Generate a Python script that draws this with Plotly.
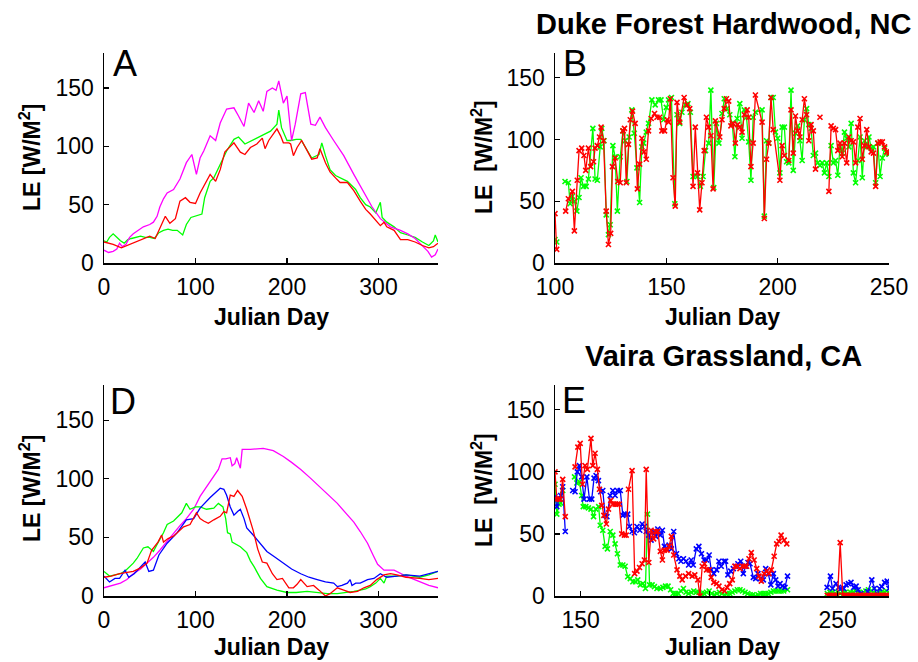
import plotly.graph_objects as go

# ---------------- Panel A (annual, Duke Forest) ----------------
A_mag_d = [0,5,10,14,17,20,24,28,32,38,43,50,54,58,61,65,69,76,83,90,96,101,105,109,116,122,127,134,142,147,153,158,164,169,174,178,184,188,191,196,200,205,209,215,220,226,231,236,242,251,262,273,284,293,302,313,324,332,340,348,354,358,362,365]
A_mag_v = [11,9,10,12,17,14,16,22,25,28,31,33,35,40,48,55,60,63,72,86,93,76,90,96,109,105,120,132,133,126,117,137,129,139,130,147,150,148,156,137,143,105,119,145,146,119,118,125,116,105,92,76,60,48,38,31,28,25,21,15,10,5,7,12]

A_grn_d = [0,3,6,10,14,18,22,26,30,35,40,45,50,55,60,65,70,75,80,86,90,95,100,107,110,116,120,127,134,142,147,154,164,174,182,189,191,194,200,204,210,215,222,227,235,238,242,247,253,260,266,275,280,286,291,297,302,304,309,317,324,332,340,348,355,360,362,365]
A_grn_v = [19,18,22,25,22,19,17,20,21,22,23,22,22,21,26,28,29,28,28,24,33,39,40,42,56,70,73,85,96,106,108,102,106,110,113,119,131,116,105,105,106,106,96,90,93,103,92,80,75,72,70,63,56,50,48,43,52,39,35,31,26,24,22,18,15,19,24,18]

A_red_d = [0,10,19,25,32,43,50,56,61,67,72,78,83,89,94,100,105,112,116,122,127,132,138,142,149,154,160,167,173,176,180,185,189,193,196,202,204,207,211,216,222,227,233,236,242,247,253,258,266,273,280,286,291,297,302,306,309,317,324,332,340,348,355,360,365]
A_red_v = [18,16,13,15,17,21,23,21,29,40,34,38,53,56,52,51,60,70,76,70,80,95,100,103,95,93,99,102,107,98,105,110,115,109,103,103,102,92,99,105,96,89,90,98,86,78,73,69,69,62,53,46,42,36,32,35,31,28,20,20,18,15,13,14,17]

# ---------------- Panel B (daily, Duke Forest) ----------------
B_grn_d = [100,100.8,None,104.5,106,106.8,107.8,108.7,109.8,110.8,111.7,112.8,114,115,117,118,119,120.3,121,122,123,124,124.8,126,127,128,129.3,130.5,131.5,132.3,133.3,134.5,135.6,136.8,138,139,139.8,141,142,143.5,145,146.5,147.6,148.8,150,151,152.3,153.8,154.8,156,157,158.5,159.7,160.8,162,163,164,165.3,166.5,167.6,169,170,171.3,172.5,173.6,175,176,177.3,178.5,179.6,180.8,181.8,183,184,185,186,187,188,189,190,193,194,195,196,197,198,199,200,201,202,203,204,205,206,207,208,209,210,211,212,213,214,215,216,217,218,219,220,221,222,223,224,225,226,227,228,229,230,231,232,233,234,235,236,237,238,239,240,241,242,243,244,245,246,247,248,249,250]
B_grn_v = [19,17,None,66,65,48,54,50,42,53,69,62,62,68,109,68,67,94,109,99,39,23,31,95,86,42,86,107,99,66,102,124,105,77,49,94,97,106,113,132,128,132,132,116,126,132,134,48,120,113,122,128,129,122,70,71,70,62,70,91,97,140,61,113,97,121,133,125,120,113,86,117,129,101,124,118,98,67,118,122,124,38,99,97,134,134,106,101,73,110,110,82,81,140,75,105,111,99,83,116,125,112,109,87,89,81,79,81,73,81,70,95,81,83,71,94,89,106,101,94,113,73,65,83,102,69,99,94,102,93,94,65,97,70,85,93,89,88]

B_red_d = [100,100.75,None,104.8,106,107.8,108.7,110,110.8,112,113,113.8,115,116,117.3,118,119,120,120.7,121.8,123,124,125,125.8,127,128.2,129.3,130.5,131.2,132,133,133.8,134.8,136,137,138,139,140,141,142,143.2,144.7,145.8,147,148,149.2,150.3,151,151.8,153,154,154.8,156,158,159.3,160.5,162,163,164,165,166,167,168,169,170,171,172,174,175,176,177,178,179,180,181,182,183,184,185,186.3,187,188,189,190,193,194,195,196,197,198,201,202,203,205,206,207,208,209,210,211,212,213,214,215,216,217,None,219,None,223,224,225,226,227,228,229,230,231,232,233,234,235,236,237,238,239,240,241,242,243,244,245,246,247,248,249,250]
B_red_v = [40,11,None,42,52,58,26,67,91,93,87,75,93,78,82,93,95,102,110,99,42,15,24,78,85,66,65,107,109,65,96,116,123,113,60,80,101,90,84,107,117,121,118,118,107,107,116,114,133,69,46,130,114,134,128,125,62,110,73,43,65,91,118,110,103,60,115,102,116,125,133,131,111,113,97,112,110,106,120,124,118,78,97,136,114,36,84,97,134,108,67,95,87,83,124,89,119,107,102,116,133,120,99,112,107,76,None,118,None,58,111,109,108,91,97,86,97,81,102,99,98,81,110,117,84,95,108,94,90,89,62,97,98,98,94,90,89]

# ---------------- Panel D (annual, Vaira) ----------------
D_mag_d = [0,10,18,25,32,40,47,54,61,68,76,83,89,98,105,112,120,125,129,133,138,140,143,145,149,151,160,174,185,196,205,215,225,236,245,255,265,273,280,288,294,299,306,317,330,345,355,365]
D_mag_v = [7,9,11,14,19,23,28,33,39,46,54,60,65,74,85,93,102,108,117,117,118,111,113,118,109,125,125,126,124,119,114,108,101,93,86,79,70,63,55,45,35,27,22,22,17,12,9,7]

D_blu_d = [0,6,12,17,23,27,33,39,45,49,54,60,69,80,90,98,105,116,122,127,131,134,138,142,146,149,153,156,163,170,178,187,196,205,215,224,233,242,251,255,260,266,269,271,275,280,288,295,302,309,320,330,345,355,365]
D_blu_v = [17,12,15,15,22,16,19,24,29,21,22,35,45,54,65,66,75,84,88,92,91,86,76,69,72,74,66,58,52,45,38,33,28,23,19,16,14,12,11,8,9,11,14,9,11,11,14,15,19,16,17,18,17,19,21]

D_red_d = [0,8,17,25,32,40,47,52,55,59,63,65,70,76,87,94,101,105,109,114,120,127,131,134,138,142,146,151,156,163,168,173,178,184,189,195,202,207,211,215,222,229,235,242,247,255,262,269,277,284,291,298,306,313,320,330,345,355,365]
D_red_v = [16,17,19,20,21,24,28,39,42,46,52,46,49,51,59,61,71,66,64,62,65,68,72,71,86,85,90,85,74,56,40,29,28,19,14,15,7,7,10,14,8,9,5,0,2,7,5,3,4,7,9,14,18,19,18,16,15,14,15]

D_grn_d = [0,6,12,18,24,28,32,36,40,43,48,54,58,61,65,69,76,85,90,94,100,105,112,120,125,130,133,135,138,140,145,149,156,160,164,171,178,185,189,200,210,222,235,244,255,266,273,280,286,291,297,302,306,309,320,330,345,355,365]
D_grn_v = [21,17,18,19,22,25,28,32,37,41,42,38,44,48,54,61,64,71,79,74,76,76,74,75,79,76,66,54,53,46,44,42,37,30,25,15,8,6,5,3,3,4,3,2,2,3,4,5,6,8,11,15,11,17,17,18,16,18,21]

# ---------------- Panel E (daily, Vaira) ----------------
E_red_d = [140,140.7,141.5,142,143,144,None,147.8,148.9,149.8,150.7,151.7,152.6,154,154.7,155.6,156.5,157.3,158.2,159,160,160.8,161.7,162.5,163.4,164.3,165,166,167,167.7,168.6,170,171,171.9,172.9,173.9,174.8,175.5,176.5,177.4,178.4,179.2,180,181,181.8,182.6,183.6,184.4,185.3,186.2,187.5,188.6,189.5,190.8,192,193.4,194.4,195.6,196.4,197.3,198.2,199,200,200.8,201.8,202.9,203.8,205,206,207,208,209,210,211,212,213,213.8,214.6,215.5,216.4,217.5,218.5,219.4,220.3,221.4,222.4,223.3,224.2,225.3,226.3,227.2,228,229.2,230.2,None,246,247,248,249,250,251,252,253,254,255,256,257,258,259,260,261,262,263,264,265,266,267,268,269,270]
E_red_v = [100,78,78,78,94,64,None,104,120,123,90,105,102,127,105,115,102,86,73,65,58,70,77,74,74,74,74,50,49,49,86,101,18,20,23,26,29,102,27,53,46,52,52,36,29,37,37,40,48,33,21,16,13,16,18,16,17,13,0,24,26,21,21,15,11,10,8,5,4,7,10,13,24,24,22,24,24,24,30,35,29,22,16,12,18,20,18,21,32,42,44,49,45,42,None,0.5,0.5,0.5,0.5,0.5,43,0.5,0.5,0.5,0.5,0.5,0.5,0.5,0.5,0.5,0.5,0.5,0.5,0.5,0.5,0.5,0.5,0.5,0.5,0.5]

E_blu_d = [140,140.7,141.6,142.2,143,144,None,146.9,147.8,148.7,149.5,150.4,151.3,152.4,153.4,154.3,155.2,156,156.9,157.8,158.6,159.5,160.2,161.5,162.5,163.4,164.3,165.4,166.4,167.3,168.3,169,170,170.9,171.9,173,173.9,174.8,175.5,176.5,177.4,178.4,179.2,180,181,181.8,182.6,183.6,184.4,185.3,186.2,187.3,188.2,189,190,191,192,193,193.8,195,196,197,198,199,200,200.8,201.8,202.9,203.8,204.7,205.8,206.4,207.3,208.4,209.4,210.3,211.2,212.3,213.3,214.2,215.1,215.9,217.2,218.1,219,220,221.1,222,223,224,225,225.9,226.8,227.6,228.5,229.5,230.5,None,245.9,247.2,248,249.4,250.4,251.3,252.4,253.3,254.2,255.2,256.3,257.2,258,259,260.4,261.7,263.3,264.3,265.4,266.3,267.2,268.3,269.3,270]
E_blu_v = [80,72,78,81,88,52,None,85,84,100,105,96,78,96,78,78,95,97,93,84,85,65,64,81,85,81,85,85,65,66,66,56,52,51,56,53,58,56,52,49,45,52,48,54,49,53,40,38,41,38,52,34,30,28,30,28,25,29,25,38,40,34,29,29,33,21,18,21,28,24,28,28,17,20,22,24,26,28,18,24,27,26,15,14,18,14,13,22,18,9,18,13,8,10,8,7,16,None,7,16,6,10,7,6,6,9,10,11,7,8,5,2,0,3.5,13,6,0,6,7.5,11,12,6]

E_grn_d = [140,140.7,141.6,142.2,143,None,147.6,148.5,149.5,150.4,151,152,153,154,155,155.9,157,157.6,158.6,159.5,160.4,161.5,162.5,163.4,164.3,165.4,166.4,167.3,168.3,169.3,170.3,171.3,172.2,173.2,174.2,175.2,176,176.8,177.8,178.7,179.7,181,182,183,184,185,186,187,188,189,190,191,192,193,194,195,196,197,198,199,200,201,202,203,204,205,206,207,208,209,210,211,212,213,214,215,216,217,218,219,220,221,222,223,224,225,226,227,228,229,230.5,None,246,247,248,249,250,251,252,253,254,255,256,257,258,259,260,261,262,263,264,265,266,267,268,269,270]
E_grn_v = [90,66,74,75,85,None,96,91,92,81,72,72,71,70,64,70,72,57,53,40,38,52,49,42,34,25,25,24,15.5,14,11.5,11.5,13,9,10,6,66,9,9,7.5,6,6,7,8,8,5,2,2,2,4,6,3,2,3,4,3,3,2,2,3,4,2,1,2,3,2,1,2,2,3,4,5,5,4,3,2,1,1,0,1,2,2,2,2,3,4,4,4,4,4,5,None,2,3,3,2,3,2,3,3,2,3,3,4,3,2,3,4,5,4,3,2,3,3,3,4,3,3]

# ---------------- text ----------------
TITLE_B = "Duke Forest Hardwood, NC"
TITLE_E = "Vaira Grassland, CA"
XLABEL = "Julian Day"
YLABEL_L = "LE [W/M<sup>2</sup>]"
YLABEL_R = "LE\u00a0 [W/M<sup>2</sup>]"
YEAR_TICKS = [0, 100, 200, 300]
B_TICKS = [100, 150, 200, 250]
E_TICKS = [150, 200, 250]
Y_TICKS = [0, 50, 100, 150]

GREEN, RED, MAG, BLUE = "#00ff00", "#ff0000", "#ff00ff", "#0000ff"
FONT = "Liberation Sans, Arial, Helvetica, sans-serif"
W, H = 918, 662


def fx(px):
    return px / W


def fy(py):
    return (H - py) / H


fig = go.Figure()


def add(xs, ys, color, ax, markers=False):
    kw = dict(x=xs, y=ys, xaxis="x" + ax, yaxis="y" + ax, connectgaps=False,
              hoverinfo="skip", showlegend=False,
              line=dict(color=color, width=1.3))
    if markers:
        kw["mode"] = "lines+markers"
        kw["marker"] = dict(symbol="x-thin", size=5, color=color,
                            line=dict(color=color, width=1.6))
    else:
        kw["mode"] = "lines"
    fig.add_trace(go.Scatter(**kw))


add(A_grn_d, A_grn_v, GREEN, "")
add(A_mag_d, A_mag_v, MAG, "")
add(A_red_d, A_red_v, RED, "")

add(B_grn_d, B_grn_v, GREEN, "2", True)
add(B_red_d, B_red_v, RED, "2", True)

add(D_mag_d, D_mag_v, MAG, "3")
add(D_grn_d, D_grn_v, GREEN, "3")
add(D_blu_d, D_blu_v, BLUE, "3")
add(D_red_d, D_red_v, RED, "3")

add(E_grn_d, E_grn_v, GREEN, "4", True)
add(E_blu_d, E_blu_v, BLUE, "4", True)
add(E_red_d, E_red_v, RED, "4", True)

LEFT = [fx(104), fx(438)]
RIGHT = [fx(555), fx(889)]
TOP = [fy(263), fy(53)]
BOT = [fy(596), fy(385)]

common = dict(ticks="inside", ticklen=5, tickwidth=1.2, tickcolor="black",
              showline=True, linecolor="black", linewidth=1.5,
              showgrid=False, zeroline=False, automargin=False,
              tickfont=dict(family=FONT, size=23, color="black"))


def xa(dom, rng, tv, anchor):
    d = dict(common)
    d.update(domain=dom, range=rng, tickvals=tv, anchor=anchor,
             ticklabelstandoff=3)
    return d


def ya(dom, rng, anchor):
    d = dict(common)
    d.update(domain=dom, range=rng, tickvals=Y_TICKS, anchor=anchor,
             ticklabelstandoff=4)
    return d


layout = dict(
    template="none",
    width=W, height=H, margin=dict(l=0, r=0, t=0, b=0, pad=0),
    paper_bgcolor="white", plot_bgcolor="white",
    font=dict(family=FONT, color="black"),
    xaxis=xa(LEFT, [0, 365], YEAR_TICKS, "y"),
    yaxis=ya(TOP, [0, 180], "x"),
    xaxis2=xa(RIGHT, [100, 250], B_TICKS, "y2"),
    yaxis2=ya(TOP, [0, 170], "x2"),
    xaxis3=xa(LEFT, [0, 365], YEAR_TICKS, "y3"),
    yaxis3=ya(BOT, [0, 180], "x3"),
    xaxis4=xa(RIGHT, [140, 270], E_TICKS, "y4"),
    yaxis4=ya(BOT, [0, 170], "x4"),
)
fig.update_layout(**layout)

ann = []


def text(t, px, py, size, bold=False, angle=0, xanchor="center"):
    ann.append(dict(text=("<b>%s</b>" % t) if bold else t, x=fx(px), y=fy(py),
                    xref="paper", yref="paper", showarrow=False,
                    xanchor=xanchor, yanchor="middle", textangle=angle,
                    font=dict(family=FONT, size=size, color="black")))


text(TITLE_B, 723, 24, 29, bold=True)
text(TITLE_E, 723, 356, 29, bold=True)
for cx, cy in [(271, 317), (722, 317), (271, 647), (722, 647)]:
    text(XLABEL, cx, cy, 23, bold=True)
text(YLABEL_L, 30, 158, 23, bold=True, angle=-90)
text(YLABEL_R, 482, 157, 23, bold=True, angle=-90)
text(YLABEL_L, 30, 489, 23, bold=True, angle=-90)
text(YLABEL_R, 482, 490, 23, bold=True, angle=-90)
text("A", 111, 63, 36, xanchor="left")
text("B", 561, 63, 36, xanchor="left")
text("D", 108, 401, 36, xanchor="left")
text("E", 560, 400, 36, xanchor="left")
fig.update_layout(annotations=ann)

fig.write_html(
    "out.html",
    config={"displayModeBar": False, "staticPlot": True},
    post_script="document.body.style.margin='0';document.body.style.overflow='hidden';",
)
